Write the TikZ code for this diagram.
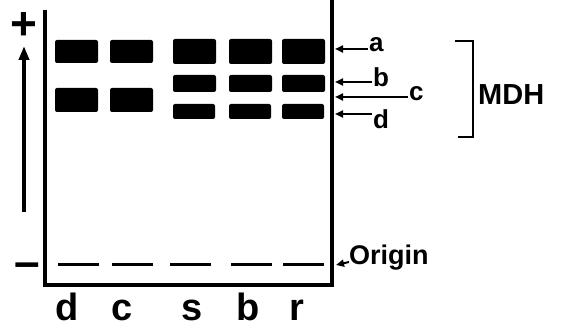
\documentclass[tikz,border=0pt]{standalone}
\usepackage{fontspec}
\setmainfont{Liberation Sans}
\usetikzlibrary{arrows.meta}

\tikzset{
  band/.style={fill=black, rounded corners=2pt},
  frameline/.style={line width=4pt},
  dashline/.style={line width=3pt},
  pointer/.style={line width=2pt, -{Triangle[length=8pt,width=7pt]}},
  lanelabel/.style={font=\fontsize{38}{38}\selectfont\bfseries, anchor=base, inner sep=0pt},
  bandlabel/.style={font=\fontsize{26}{26}\selectfont\bfseries, inner sep=1pt},
}

\begin{document}
\begin{tikzpicture}[x=1pt, y=-1pt]
  \useasboundingbox (0,0) rectangle (563,328);

  % gel frame
  \draw[frameline] (45,10) -- (45,285) -- (332,285) -- (332,0);

  % bands: a and the lower band of d, c
  \foreach \lx in {55,110} {
    \fill[band] (\lx,40) rectangle ++(43,23);
    \fill[band] (\lx,88) rectangle ++(43,24);
  }
  % bands: a, b and d of s, b, r
  \foreach \lx in {173,229,282} {
    \fill[band] (\lx,39) rectangle ++(43,25);
    \fill[band] (\lx,75) rectangle ++(43,17);
    \fill[band] (\lx,104) rectangle ++(42,15);
  }

  % origin dashes
  \foreach \lx in {58,112,170,231,283}
    \draw[dashline] (\lx,265) -- ++(41,0);

  % lane labels
  \node[lanelabel] (ld) at (67,321) {d};
  \node[lanelabel] (lc) at (122,321) {c};
  \node[lanelabel] (ls) at (192,321) {s};
  \node[lanelabel] (lb) at (248,321) {b};
  \node[lanelabel] (lr) at (297,321) {r};

  % polarity and direction
  \node[font=\fontsize{46}{46}\selectfont\bfseries] (plus) at (24,26) {+};
  \node[font=\fontsize{46}{46}\selectfont\bfseries] (minus) at (27,270) {–};
  \coordinate (up0) at (24,212);
  \coordinate (up1) at (24,46);
  \draw[line width=3.5pt, -{Triangle[length=14pt,width=10pt]}] (up0) -- (up1);

  % band labels
  \node[bandlabel, anchor=west] (na) at (368,45) {a};
  \node[bandlabel, anchor=west] (nb) at (372,77) {b};
  \node[bandlabel, anchor=west] (nc) at (408,94) {c};
  \node[bandlabel, anchor=west] (nd) at (372,119) {d};
  \coordinate (pa) at (335,49);
  \coordinate (pb) at (335,82);
  \coordinate (pc) at (335,97);
  \coordinate (pd) at (335,114);
  \draw[pointer] (na.west |- pa) -- (pa);
  \draw[pointer] (nb.west |- pb) -- (pb);
  \draw[pointer] (nc.west |- pc) -- (pc);
  \draw[pointer] (nd.west |- pd) -- (pd);

  % MDH bracket
  \draw[line width=2.5pt] (455,41) -- (473,41) -- (473,137) -- (458,137);
  \node[font=\fontsize{29}{29}\selectfont\bfseries, anchor=west, inner sep=1pt] (mdh) at (477,95) {MDH};

  % origin
  \node[font=\fontsize{27}{27}\selectfont\bfseries, anchor=west, inner sep=1pt] (orig) at (348,258) {Origin};
  \coordinate (po) at (336,265);
  \coordinate (ot) at (349,262);
  \draw[pointer] (ot) -- (po);
\end{tikzpicture}
\end{document}
